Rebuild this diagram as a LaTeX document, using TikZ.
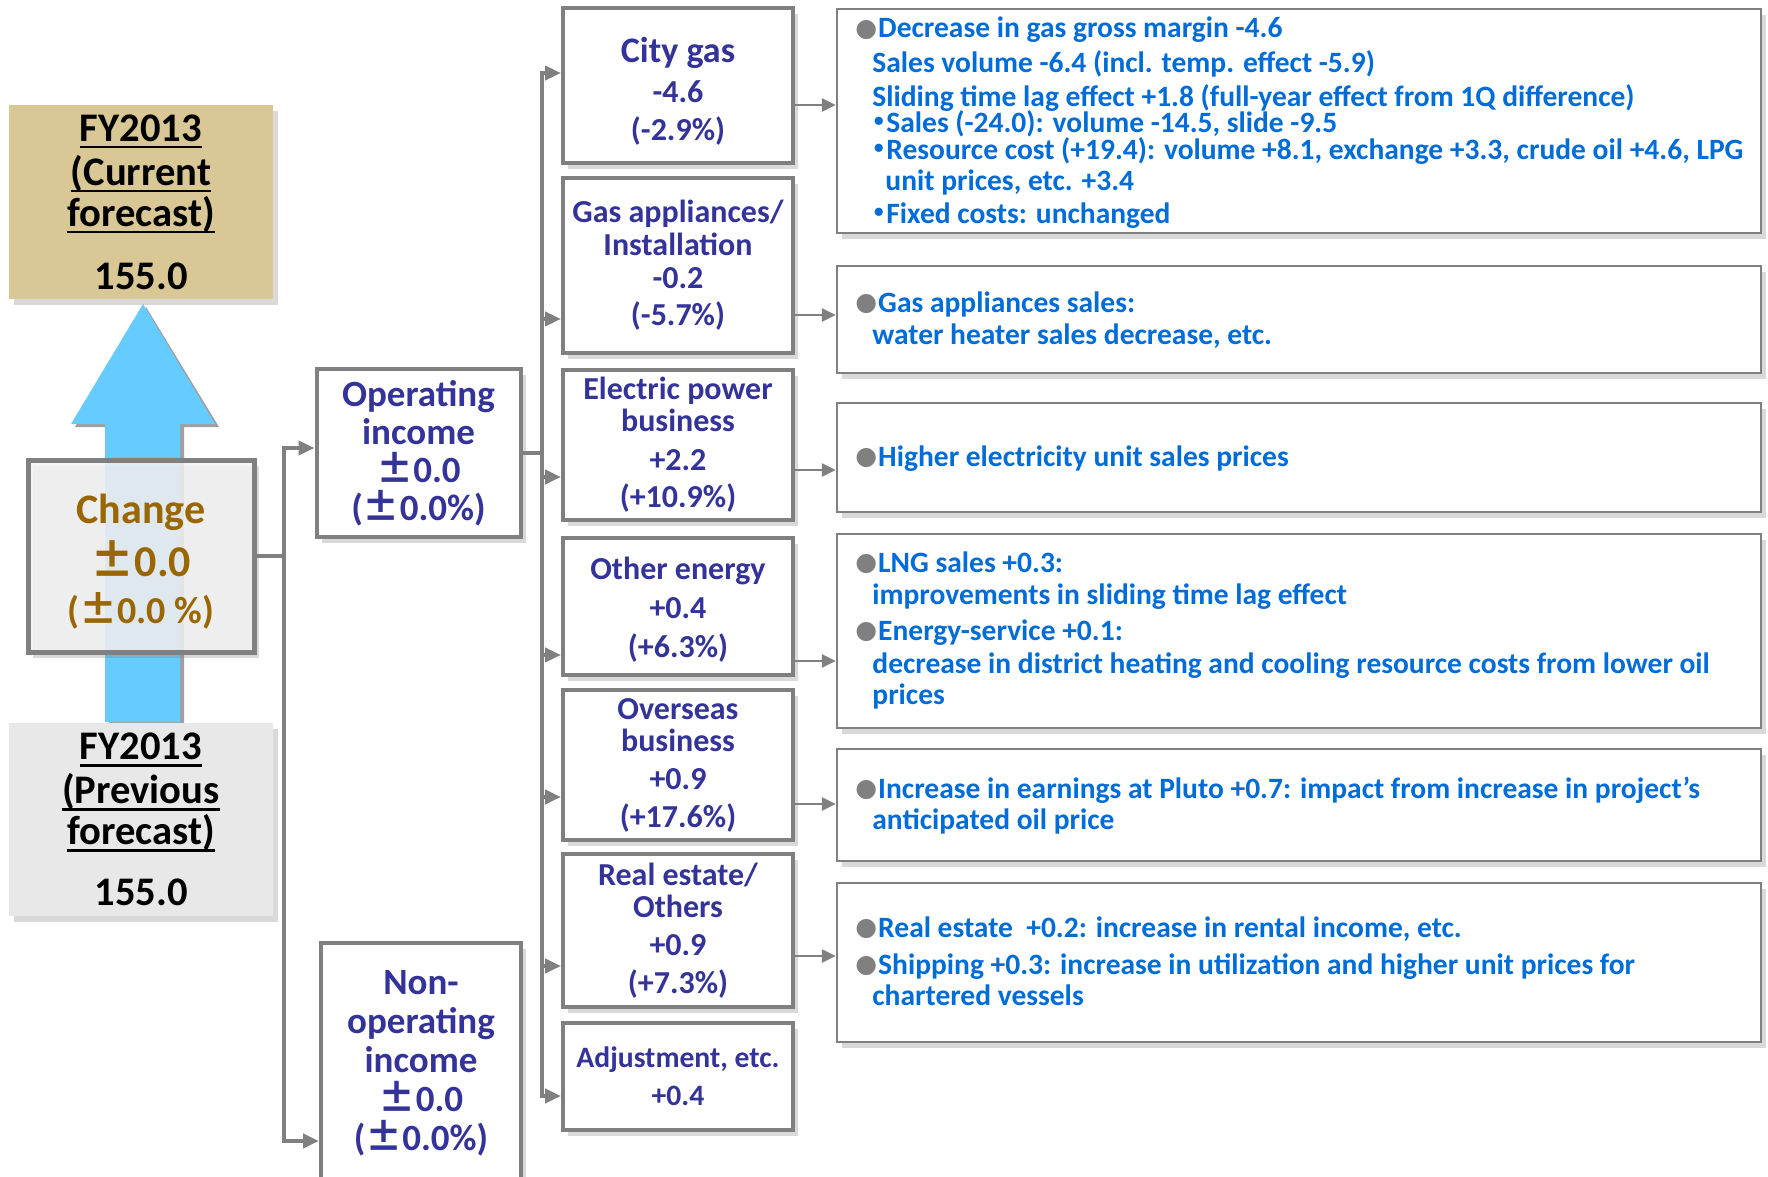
\documentclass[tikz,border=0pt]{standalone}
\usepackage{fontspec}
\setmainfont{Carlito}
\newfontfamily\cjk{Noto Sans CJK JP}
\newfontfamily\dejavu{DejaVu Sans}
\usetikzlibrary{arrows.meta,shadows}
\definecolor{linegray}{HTML}{808080}
\definecolor{midblue}{HTML}{333399}
\definecolor{rblue}{HTML}{006CD8}
\definecolor{brownc}{HTML}{996600}
\definecolor{tanfill}{HTML}{D9C896}
\definecolor{arrowblue}{HTML}{66CCFF}
\newcommand\pmj{{\cjk ±}}
\newcommand\bul{\raisebox{0.8pt}{\dejavu\color{gray}\fontsize{12.5}{12.5}\selectfont ●}\hspace{0.5pt}}
\newcommand\kdot{\makebox[7pt][c]{\cjk ・}}
\newcommand\uln[1]{\setbox0=\hbox{#1}\leavevmode\rlap{\copy0}\rule[-3.5pt]{\wd0}{1.3pt}}
\begin{document}
\begin{tikzpicture}[x=0.5pt,y=-0.5pt,
  conn/.style={draw=linegray, line width=2pt},
  arr/.style={conn, -{Triangle[length=8pt,width=7pt]}},
  sarr/.style={draw=linegray, line width=1.2pt, -{Triangle[length=7pt,width=6.5pt]}},
  shd/.style={drop shadow={shadow xshift=2.5pt, shadow yshift=-3pt, opacity=0.3}},
  lbox/.style={rectangle, inner sep=0pt, align=center, font=\bfseries\fontsize{20.3}{20.5}\selectfont, minimum width=132pt, shd},
  midbox/.style={rectangle, draw=linegray, line width=2pt, fill=white, inner sep=0pt, align=center, minimum width=115pt, text=midblue, font=\bfseries\fontsize{16}{16}\selectfont, shd},
  opbox/.style={midbox, minimum width=102pt, font=\bfseries\fontsize{18.5}{19}\selectfont},
  rbox/.style={rectangle, draw=linegray, line width=1.2pt, fill=white, minimum width=462pt, inner sep=0pt, shd},
  rtext/.style={anchor=base west, inner sep=0pt, text=rblue, font=\bfseries\fontsize{14.75}{14.75}\selectfont}
]
\useasboundingbox (0,0) rectangle (1768,1177);

% blue arrow
\fill[gray!75] (109,725) -- (109,427) -- (75,427) -- (146,307) -- (219,427) -- (184,427) -- (184,725) -- cycle;
\fill[arrowblue] (105,722) -- (105,424) -- (71,424) -- (143,304) -- (215,424) -- (180,424) -- (180,722) -- cycle;

% left boxes
\node[lbox, fill=tanfill, minimum height=97pt] (cur) at (141,202)
  {\uln{FY2013}\\[1.5pt]\uln{(Current}\\\uln{forecast)}\\[11pt]155.0};
\node[lbox, fill=gray!18, minimum height=96.5pt] (prev) at (141,819.5)
  {\uln{FY2013}\\[1.5pt]\uln{(Previous}\\\uln{forecast)}\\[10pt]155.0};
\node[rectangle, draw=linegray, line width=2.5pt, fill=gray!10, fill opacity=0.85, text opacity=1,
  inner sep=0pt, align=center, minimum width=113pt, minimum height=96pt, text=brownc, shd,
  font=\bfseries\fontsize{21}{21}\selectfont] (chg) at (141,556)
  {\mbox{}\\[-0.2pt]Change\\[4pt]
   {\fontsize{22}{22}\selectfont\pmj0.0}\\[2.5pt]
   {\fontsize{19}{19}\selectfont(\pmj0.0 \%)}};

% operating / non-operating
\node[opbox, minimum height=84pt] (opinc) at (418.5,453)
  {Operating\\income\\\pmj0.0\\(\pmj0.0\%)};
\node[opbox, minimum width=100pt, minimum height=123.5pt, font=\bfseries\fontsize{18.5}{19.5}\selectfont] (nonop) at (421,1066.5)
  {Non-\\operating\\income\\\pmj0.0\\(\pmj0.0\%)\\[-13.2pt]\mbox{}};

% middle boxes
\node[midbox, minimum height=77.5pt] (cg) at (678,85.5)
  {\mbox{}\\[2.1pt]{\fontsize{18}{18}\selectfont City gas}\\[4pt]-4.6\\[3pt](-2.9\%)};
\node[midbox, minimum height=87.5pt] (ga) at (678,265.5)
  {Gas appliances/\\[0.5pt]Installation\\[0.5pt]-0.2\\[2.5pt](-5.7\%)};
\node[midbox, minimum height=75pt] (ep) at (678,445)
  {Electric power\\business\\[3.5pt]+2.2\\[2.5pt](+10.9\%)};
\node[midbox, minimum height=68.5pt] (oe) at (678,606.5)
  {\mbox{}\\[-1.2pt]Other energy\\[3.5pt]+0.4\\[3.5pt](+6.3\%)};
\node[midbox, minimum height=75pt] (ov) at (678,765)
  {Overseas\\business\\[3pt]+0.9\\[3pt](+17.6\%)};
\node[midbox, minimum height=76.5pt] (re) at (678,930.5)
  {Real estate/\\Others\\[3pt]+0.9\\[3pt](+7.3\%)};
\node[midbox, minimum height=53.5pt, font=\bfseries\fontsize{14.8}{14.8}\selectfont] (ad) at (678,1076.5)
  {Adjustment, etc.\\[4pt]+0.4};

% right boxes
\node[rbox, minimum height=112pt] (r1) at (1299,121) {};
\node[rbox, minimum height=53.5pt] (r2) at (1299,319.5) {};
\node[rbox, minimum height=54.5pt] (r3) at (1299,457.5) {};
\node[rbox, minimum height=97pt] (r4) at (1299,631) {};
\node[rbox, minimum height=56pt] (r5) at (1299,805) {};
\node[rbox, minimum height=79.5pt] (r6) at (1299,962.5) {};

% right texts
\node[rtext] (t1a) at (855,38) {\bul Decrease in gas gross margin -4.6};
\node[rtext] (t1b) at (872,73) {Sales volume -6.4 (incl. temp. effect -5.9)};
\node[rtext] (t1c) at (872,107) {Sliding time lag effect +1.8 (full-year effect from 1Q difference)};
\node[rtext] (t1d) at (872,133) {\kdot Sales (-24.0): volume -14.5, slide -9.5};
\node[rtext] (t1e) at (872,160) {\kdot Resource cost (+19.4): volume +8.1, exchange +3.3, crude oil +4.6, LPG};
\node[rtext] (t1f) at (885,191) {unit prices, etc. +3.4};
\node[rtext] (t1g) at (872,223) {\kdot Fixed costs: unchanged};

\node[rtext] (t2a) at (855,312) {\bul Gas appliances sales:};
\node[rtext] (t2b) at (872,344) {water heater sales decrease, etc.};

\node[rtext] (t3a) at (855,466) {\bul Higher electricity unit sales prices};

\node[rtext] (t4a) at (855,572) {\bul LNG sales +0.3:};
\node[rtext] (t4b) at (872,604) {improvements in sliding time lag effect};
\node[rtext] (t4c) at (855,640) {\bul Energy-service +0.1:};
\node[rtext] (t4d) at (872,673) {decrease in district heating and cooling resource costs from lower oil};
\node[rtext] (t4e) at (872,704) {prices};

\node[rtext] (t5a) at (855,798) {\bul Increase in earnings at Pluto +0.7: impact from increase in project’s};
\node[rtext] (t5b) at (872,829) {anticipated oil price};

\node[rtext] (t6a) at (855,937) {\bul Real estate\ \ +0.2: increase in rental income, etc.};
\node[rtext] (t6b) at (855,974) {\bul Shipping +0.3: increase in utilization and higher unit prices for};
\node[rtext] (t6c) at (872,1005) {chartered vessels};

% left connectors
\coordinate (b1) at (284,556);
\draw[conn] (chg.east) -- (b1);
\draw[arr] (b1) |- (opinc.west |- 0,448);
\draw[arr] (b1) |- (nonop.west |- 0,1141);

% middle bus
\coordinate (b2) at (542,453);
\draw[conn] (opinc.east) -- (b2);
\draw[arr] (b2) |- (cg.west |- 0,73);
\draw[arr] (b2) |- (ga.west |- 0,319);
\draw[arr] (b2) |- (ep.west |- 0,477);
\draw[arr] (b2) |- (oe.west |- 0,655);
\draw[arr] (b2) |- (ov.west |- 0,797);
\draw[arr] (b2) |- (re.west |- 0,966);
\draw[arr] (b2) |- (ad.west |- 0,1096);

% right connectors
\draw[sarr] (cg.east |- 0,105) -- (r1.west |- 0,105);
\draw[sarr] (ga.east |- 0,315) -- (r2.west |- 0,315);
\draw[sarr] (ep.east |- 0,470) -- (r3.west |- 0,470);
\draw[sarr] (oe.east |- 0,661) -- (r4.west |- 0,661);
\draw[sarr] (ov.east |- 0,804) -- (r5.west |- 0,804);
\draw[sarr] (re.east |- 0,956) -- (r6.west |- 0,956);
\end{tikzpicture}
\end{document}
